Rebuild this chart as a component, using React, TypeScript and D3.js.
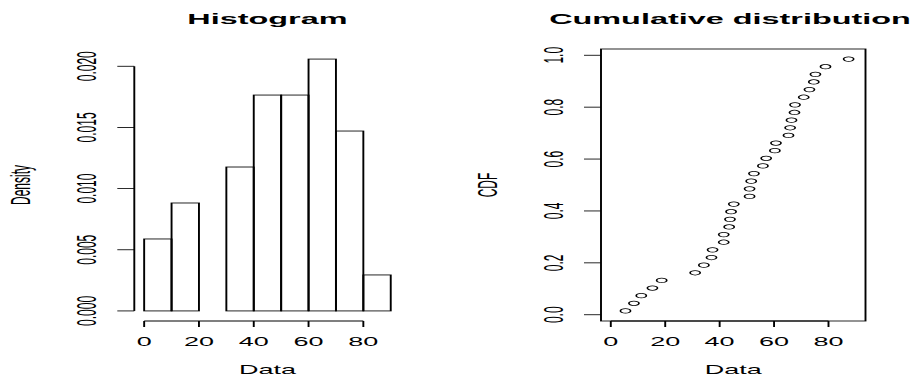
import React from "react";
import * as d3 from "d3";

const values = [
  5.4, 8.5, 11.2, 15.3, 18.7, 31.0, 34.2, 37.0, 37.4, 41.5, 41.5, 43.5, 43.8,
  44.2, 45.2, 51.0, 51.0, 51.6, 52.6, 55.9, 57.1, 60.3, 60.7, 65.3, 65.9, 66.4,
  67.5, 67.7, 70.9, 73.0, 74.6, 75.2, 78.9, 87.4,
];
const breaks = [0, 10, 20, 30, 40, 50, 60, 70, 80, 90];
const xTicks = [0, 20, 40, 60, 80];
const densityTicks = [0, 0.005, 0.01, 0.015, 0.02];
const densityLabels = ["0.000", "0.005", "0.010", "0.015", "0.020"];
const cdfTicks = [0, 0.2, 0.4, 0.6, 0.8, 1.0];
const cdfLabels = ["0.0", "0.2", "0.4", "0.6", "0.8", "1.0"];

// the picture is stretched horizontally; draw in a squeezed viewBox
const W = 912;
const H = 375;
const SX = 2.25;
const vx = (px: number) => px / SX;

const TOP = 49;
const BOTTOM = 321;
const FONT = "'Liberation Sans', Arial, Helvetica, sans-serif";

// R style 4% padding
const pad = (lo: number, hi: number) => {
  const d = (hi - lo) * 0.04;
  return [lo - d, hi + d];
};

export default function App() {
  const n = values.length;
  const bins = breaks.slice(0, -1).map((lo, i) => {
    const hi = breaks[i + 1];
    const count = values.filter((v) => (i === 0 ? v >= lo : v > lo) && v <= hi).length;
    return { lo, hi, density: count / (n * (hi - lo)) };
  });
  const maxDensity = d3.max(bins, (b) => b.density) as number;

  const xHist = d3.scaleLinear().domain(pad(0, 90)).range([vx(134.3), vx(400.6)]);
  const yHist = d3.scaleLinear().domain(pad(0, maxDensity)).range([BOTTOM, TOP]);

  const sorted = [...values].sort((a, b) => a - b);
  const cdf = sorted.map((v, i) => ({ x: v, p: (i + 0.5) / n }));
  const xCdf = d3.scaleLinear().domain(pad(0, 90)).range([vx(601), vx(865.5)]);
  const yCdf = d3
    .scaleLinear()
    .domain(pad(cdf[0].p, cdf[cdf.length - 1].p))
    .range([BOTTOM, TOP]);

  const sw = 0.85;
  const tickY = vx(17);

  const xAxis = (x: d3.ScaleLinear<number, number>) => (
    <g>
      <line x1={x(0)} x2={x(80)} y1={BOTTOM} y2={BOTTOM} stroke="#000" strokeWidth={sw} />
      {xTicks.map((t) => (
        <g key={t}>
          <line x1={x(t)} x2={x(t)} y1={BOTTOM} y2={BOTTOM + 6} stroke="#000" strokeWidth={sw} />
          <text x={x(t)} y={346.5} textAnchor="middle" fontSize={12} fontFamily={FONT}>
            {t}
          </text>
        </g>
      ))}
      <text
        x={(x.range()[0] + x.range()[1]) / 2}
        y={374}
        textAnchor="middle"
        fontSize={12}
        fontFamily={FONT}
      >
        Data
      </text>
    </g>
  );

  const yAxis = (
    y: d3.ScaleLinear<number, number>,
    ax: number,
    ticks: number[],
    labels: string[],
    title: string,
    drawLine: boolean
  ) => (
    <g>
      {drawLine && (
        <line
          x1={ax}
          x2={ax}
          y1={y(ticks[0])}
          y2={y(ticks[ticks.length - 1])}
          stroke="#000"
          strokeWidth={sw}
        />
      )}
      {ticks.map((t, i) => (
        <g key={t}>
          <line x1={ax - tickY} x2={ax} y1={y(t)} y2={y(t)} stroke="#000" strokeWidth={sw} />
          <text
            transform={`translate(${ax - vx(38)},${y(t)}) rotate(-90)`}
            textAnchor="middle"
            fontSize={12}
            fontFamily={FONT}
          >
            {labels[i]}
          </text>
        </g>
      ))}
      <text
        transform={`translate(${ax - vx(104)},${(BOTTOM + TOP) / 2}) rotate(-90)`}
        textAnchor="middle"
        fontSize={12}
        fontFamily={FONT}
      >
        {title}
      </text>
    </g>
  );

  const histLeft = xHist.range()[0];
  const cdfLeft = xCdf.range()[0];

  return (
    <svg
      width={W}
      height={H}
      viewBox={`0 0 ${W / SX} ${H}`}
      preserveAspectRatio="none"
      style={{ position: "absolute", left: 0, top: 0, background: "#fff" }}
    >
      {/* Histogram */}
      <text
        x={(xHist.range()[0] + xHist.range()[1]) / 2}
        y={24.5}
        textAnchor="middle"
        fontSize={14.4}
        fontWeight="bold"
        fontFamily={FONT}
      >
        Histogram
      </text>
      {bins.map((b) => (
        <rect
          key={b.lo}
          x={xHist(b.lo)}
          y={yHist(b.density)}
          width={xHist(b.hi) - xHist(b.lo)}
          height={yHist(0) - yHist(b.density)}
          fill="none"
          stroke="#000"
          strokeWidth={sw}
        />
      ))}
      {xAxis(xHist)}
      {yAxis(yHist, histLeft, densityTicks, densityLabels, "Density", true)}

      {/* Cumulative distribution */}
      <text
        x={vx(730)}
        y={24.5}
        textAnchor="middle"
        fontSize={14.4}
        fontWeight="bold"
        fontFamily={FONT}
      >
        Cumulative distribution
      </text>
      <rect
        x={cdfLeft}
        y={TOP}
        width={xCdf.range()[1] - cdfLeft}
        height={BOTTOM - TOP}
        fill="none"
        stroke="#000"
        strokeWidth={sw}
      />
      {cdf.map((d, i) => (
        <circle
          key={i}
          cx={xCdf(d.x)}
          cy={yCdf(d.p)}
          r={2.25}
          fill="none"
          stroke="#000"
          strokeWidth={0.75}
        />
      ))}
      {xAxis(xCdf)}
      {yAxis(yCdf, cdfLeft, cdfTicks, cdfLabels, "CDF", false)}
    </svg>
  );
}
